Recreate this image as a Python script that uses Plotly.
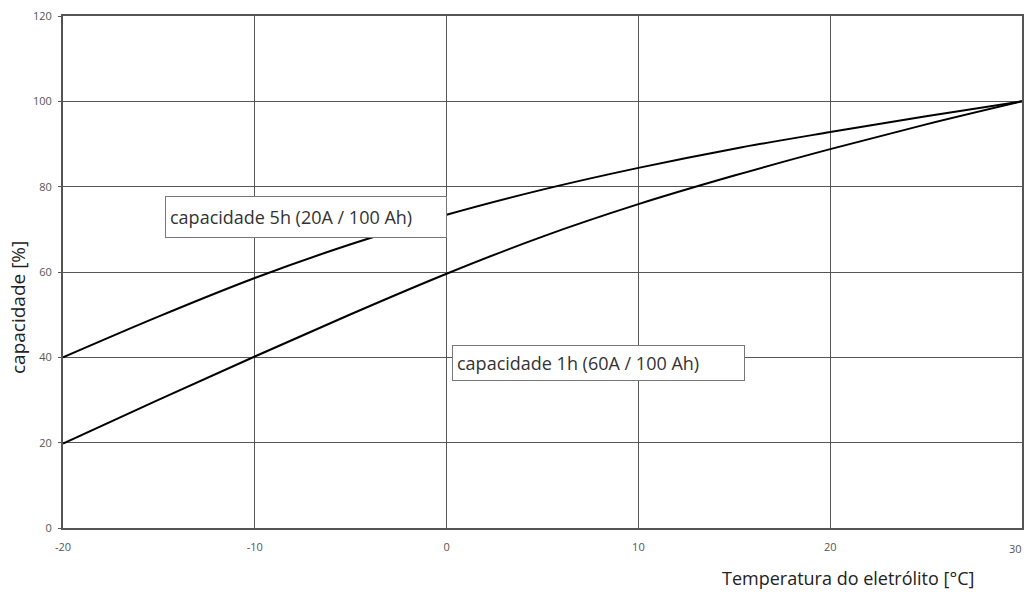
import plotly.graph_objects as go

temps = [-20, -15, -10, -5, 0, 5, 10, 15, 20, 25, 30]
cap_5h = [40, 49.6, 58.6, 66.5, 73.4, 79.3, 84.4, 88.9, 92.8, 96.5, 100]
cap_1h = [19.8, 30.1, 40.2, 50.1, 59.6, 68.3, 75.9, 82.6, 88.8, 94.6, 100]
label_5h = "capacidade 5h (20A / 100 Ah)"
label_1h = "capacidade 1h (60A / 100 Ah)"
x_title = "Temperatura do eletrólito [°C]"
y_title = "capacidade [%]"
x_ticks = [-20, -10, 0, 10, 20]
x_tick_labels = ["-20", "-10", "0", "10", "20"]
x_last_tick = "30"
y_ticks = [0, 20, 40, 60, 80, 100, 120]

FONT = "Open Sans, sans-serif"
fig = go.Figure()
fig.add_trace(go.Scatter(x=temps, y=cap_5h, mode="lines", line=dict(color="black", width=2, shape="spline"),
                         showlegend=False, hoverinfo="skip"))
fig.add_trace(go.Scatter(x=temps, y=cap_1h, mode="lines", line=dict(color="black", width=2, shape="spline"),
                         showlegend=False, hoverinfo="skip"))

fig.add_annotation(x=-14.68, y=72.9, xref="x", yref="y", text=label_5h, showarrow=False,
                   xanchor="left", yanchor="middle", align="left", width=272, height=32,
                   font=dict(family=FONT, size=18, color="#333"),
                   bgcolor="white", bordercolor="#777", borderwidth=1, borderpad=4)
fig.add_annotation(x=0.28, y=38.7, xref="x", yref="y", text=label_1h, showarrow=False,
                   xanchor="left", yanchor="middle", align="left", width=283, height=26,
                   font=dict(family=FONT, size=18, color="#333"),
                   bgcolor="white", bordercolor="#777", borderwidth=1, borderpad=4)

# titles positioned in paper coordinates (plot area: x 63..1022, y 16..528)
fig.add_annotation(x=(976 - 63) / 959, y=-(578 - 528) / 512, xref="paper", yref="paper",
                   text=x_title, showarrow=False, xanchor="right", yanchor="middle",
                   font=dict(family=FONT, size=18, color="#222"))
fig.add_annotation(x=-(63 - 18) / 959, y=(528 - 308) / 512, xref="paper", yref="paper",
                   text=y_title, showarrow=False, textangle=-90, xanchor="center", yanchor="middle",
                   font=dict(family=FONT, size=19, color="#222"))
fig.add_annotation(x=1.0, y=-(548 - 528) / 512, xref="paper", yref="paper", text=x_last_tick,
                   showarrow=False, xanchor="right", yanchor="middle", xshift=2,
                   font=dict(family=FONT, size=11, color="#555"))

fig.update_xaxes(range=[-20, 30], tickvals=x_ticks, ticktext=x_tick_labels, ticks="", showgrid=True,
                 gridcolor="#555", gridwidth=1, showline=True, linecolor="#555", linewidth=2, mirror=True,
                 zeroline=False, automargin=False, ticklabelstandoff=8,
                 tickfont=dict(family=FONT, size=11, color="#555"))
fig.update_yaxes(range=[0, 120], tickvals=y_ticks, ticks="outside", ticklen=3, tickcolor="#555",
                 showgrid=True, gridcolor="#555", gridwidth=1, showline=True, linecolor="#555",
                 linewidth=2, mirror=True, zeroline=False, automargin=False, ticklabelstandoff=4,
                 tickfont=dict(family=FONT, size=11, color="#555"))

fig.update_layout(width=1024, height=594, margin=dict(l=63, r=2, t=16, b=66),
                  plot_bgcolor="white", paper_bgcolor="white")
fig.write_html("out.html", config={"displayModeBar": False},
               post_script="document.body.style.margin='0';document.body.style.overflow='hidden';")
